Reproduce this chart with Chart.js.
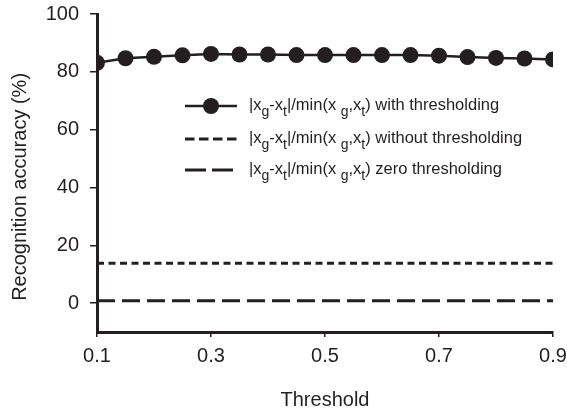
<!DOCTYPE html>
<html>
<head>
<meta charset="utf-8">
<script src="https://cdn.jsdelivr.net/npm/chart.js@4.4.1/dist/chart.umd.min.js"></script>
<style>
  html, body { margin: 0; padding: 0; background: #fff; }
  #wrap { width: 567px; height: 413px; }
</style>
</head>
<body>
<div id="wrap"><canvas id="accChart" width="567" height="413"></canvas></div>
<script>
// values
const thresholds = [0.1, 0.15, 0.2, 0.25, 0.3, 0.35, 0.4, 0.45, 0.5, 0.55, 0.6, 0.65, 0.7, 0.75, 0.8, 0.85, 0.9];
const withThresholding = [83.1, 84.7, 85.2, 85.7, 86.2, 86.0, 86.0, 85.8, 85.8, 85.8, 85.8, 85.8, 85.6, 85.1, 84.8, 84.6, 84.3];
const withoutThresholding = [13.8, 13.8, 13.8, 13.8, 13.8, 13.8, 13.8, 13.8, 13.8, 13.8, 13.8, 13.8, 13.8, 13.8, 13.8, 13.8, 13.8];
const zeroThresholding = [0.8, 0.8, 0.8, 0.8, 0.8, 0.8, 0.8, 0.8, 0.8, 0.8, 0.8, 0.8, 0.8, 0.8, 0.8, 0.8, 0.8];
const legendSuffix = ['with thresholding', 'without thresholding', 'zero thresholding'];
const yTickValues = [0, 20, 40, 60, 80, 100];
const xTickValues = [0.1, 0.3, 0.5, 0.7, 0.9];

const INK = '#231f20';
const FONT = 'Liberation Sans, Arial, sans-serif';

function toPoints(ys) {
    return thresholds.map((x, i) => ({ x: x, y: ys[i] }));
}

// draws the legend by hand: Chart.js can't do the subscripts
const subLegend = {
    id: 'subLegend',
    afterDraw(chart) {
        const ctx = chart.ctx;
        const x0 = 185, x1 = 237, tx = 249;
        const rows = [106, 139, 170];
        const sampleDash = [[], [9.5, 4.5], [21, 6]];
        ctx.save();
        chart.data.datasets.forEach((ds, i) => {
            const y = rows[i];
            ctx.strokeStyle = INK;
            ctx.lineWidth = ds.borderWidth;
            ctx.setLineDash(sampleDash[i]);
            ctx.beginPath();
            ctx.moveTo(x0, y);
            ctx.lineTo(x1, y);
            ctx.stroke();
            ctx.setLineDash([]);
            if (ds.pointRadius > 0) {
                ctx.fillStyle = INK;
                ctx.beginPath();
                ctx.arc((x0 + x1) / 2, y, ds.pointRadius, 0, Math.PI * 2);
                ctx.fill();
            }
            // text with subscripts
            const parts = [
                ['|x', 0], ['g', 1], ['-x', 0], ['t', 1], ['|/min(x ', 0], ['g', 1], [',x', 0], ['t', 1],
                [') ' + legendSuffix[i], 0]
            ];
            let cx = tx;
            ctx.fillStyle = INK;
            ctx.textBaseline = 'middle';
            ctx.textAlign = 'left';
            parts.forEach(p => {
                ctx.font = (p[1] ? '14px ' : '16.5px ') + FONT;
                ctx.fillText(p[0], cx, y + (p[1] ? 6 : -1));
                cx += ctx.measureText(p[0]).width;
            });
        });
        ctx.restore();
    }
};

const ctx = document.getElementById('accChart').getContext('2d');
new Chart(ctx, {
    type: 'line',
    data: {
        datasets: [
            {
                data: toPoints(withThresholding),
                borderColor: INK,
                backgroundColor: INK,
                borderWidth: 2.5,
                pointRadius: 8,
                pointHoverRadius: 8,
                pointBorderWidth: 0,
                tension: 0
            },
            {
                data: toPoints(withoutThresholding),
                borderColor: INK,
                borderWidth: 3,
                borderDash: [7, 4.5],
                pointRadius: 0
            },
            {
                data: toPoints(zeroThresholding),
                borderColor: INK,
                borderWidth: 3,
                borderDash: [18, 7],
                pointRadius: 0
            }
        ]
    },
    options: {
        responsive: false,
        animation: false,
        layout: { padding: { top: 14, right: 14, left: 0, bottom: 0 } },
        plugins: { legend: { display: false }, tooltip: { enabled: false } },
        scales: {
            x: {
                type: 'linear',
                min: 0.1,
                max: 0.9,
                afterBuildTicks: (s) => { s.ticks = xTickValues.map(v => ({ value: v })); },
                afterFit: (s) => { s.height = 81; s.paddingLeft = 0; s.paddingRight = 0; },
                border: { color: INK, width: 3 },
                grid: { drawOnChartArea: false, color: INK, lineWidth: 1.5, tickLength: 5 },
                ticks: {
                    color: INK, padding: 7, maxRotation: 0,
                    font: { family: FONT, size: 20 },
                    callback: (v) => v.toFixed(1)
                },
                title: {
                    display: true, text: 'Threshold', color: INK,
                    font: { family: FONT, size: 20 }, padding: { top: 4, bottom: 1 }
                }
            },
            y: {
                min: -10,
                max: 100,
                afterBuildTicks: (s) => { s.ticks = yTickValues.map(v => ({ value: v })); },
                afterFit: (s) => { s.width = 97; s.paddingTop = 0; s.paddingBottom = 0; },
                border: { color: INK, width: 3 },
                grid: { drawOnChartArea: false, color: INK, lineWidth: 1.5, tickLength: 7 },
                ticks: {
                    color: INK, padding: 11,
                    font: { family: FONT, size: 20 }
                },
                title: {
                    display: true, text: 'Recognition accuracy (%)     ', color: INK,
                    font: { family: FONT, size: 20 }, padding: { top: 8, bottom: 4 }
                }
            }
        }
    },
    plugins: [subLegend]
});
</script>
</body>
</html>
